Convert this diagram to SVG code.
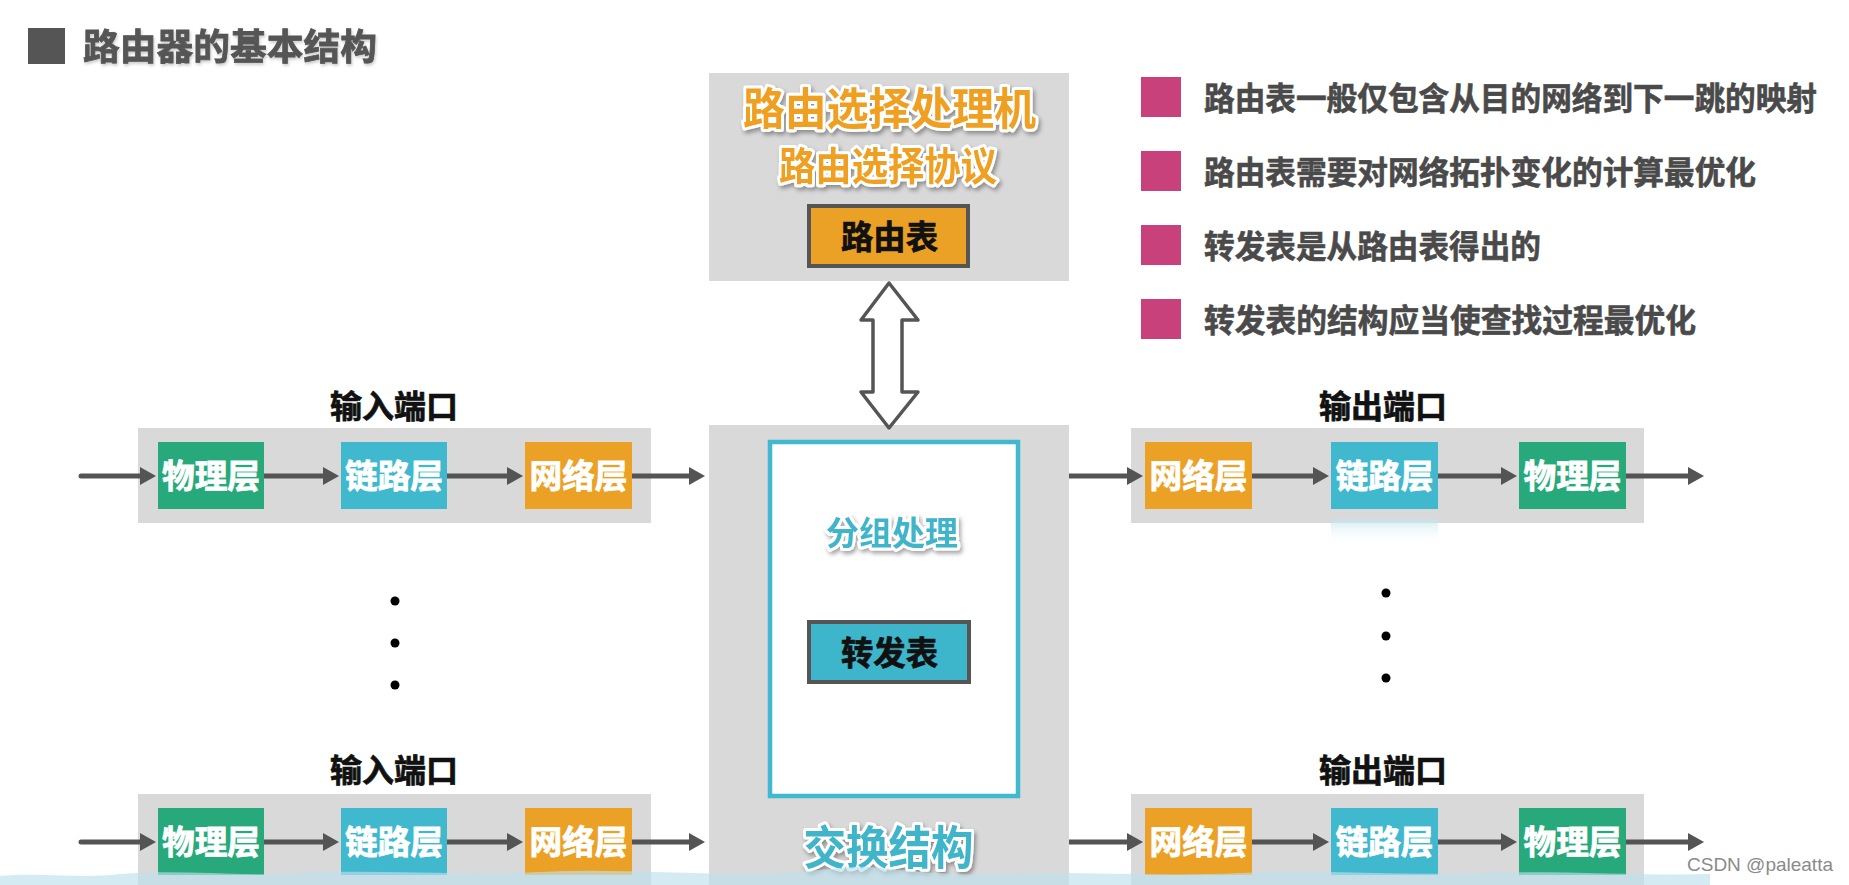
<svg xmlns="http://www.w3.org/2000/svg" width="1849" height="885" viewBox="0 0 1849 885">
<style>
.cjk{font-family:"Noto Sans CJK SC","Noto Sans CJK TC",sans-serif;font-weight:bold}
.band{fill:#D9D9D9}
.green{fill:#27A97B}
.cyan{fill:#40B8CD}
.orange{fill:#EBA125}
.lt{fill:#FFFFFF;stroke:#FFFFFF;stroke-width:0.8px;font-size:33px;text-anchor:middle}
.lbl{fill:#111111;stroke:#111111;stroke-width:0.7px;font-size:32px;text-anchor:middle}
.bul{fill:#C8417B}
.btxt{fill:#4A4A4A;stroke:#4A4A4A;stroke-width:0.6px;font-size:32px}
.glow{stroke:#FFFFFF;stroke-width:6px;stroke-linejoin:round;paint-order:stroke;filter:url(#sh);text-anchor:middle}
.arr{stroke:#545454;stroke-width:5;fill:none;marker-end:url(#ah)}
.dot{fill:#000000}
</style>
<defs>
<marker id="ah" markerUnits="userSpaceOnUse" markerWidth="17" markerHeight="20" refX="5" refY="10" orient="auto">
<path d="M0,1 L16,10 L0,19 z" fill="#545454"/>
</marker>
<filter id="sh" x="-10%" y="-20%" width="130%" height="150%">
<feDropShadow dx="2" dy="3" stdDeviation="2" flood-color="#000000" flood-opacity="0.35"/>
</filter>
<filter id="tsh" x="-5%" y="-20%" width="115%" height="150%">
<feDropShadow dx="1" dy="2" stdDeviation="1.5" flood-color="#000000" flood-opacity="0.2"/>
</filter>
<linearGradient id="refl" x1="0" y1="0" x2="0" y2="1">
<stop offset="0" stop-color="#BFE3EC" stop-opacity="0.7"/>
<stop offset="1" stop-color="#FFFFFF" stop-opacity="0"/>
</linearGradient>
</defs>
<rect x="0" y="0" width="1849" height="885" fill="#FFFFFF"/>

<g id="title">
<rect x="28" y="28" width="37" height="36" fill="#555555"/>
<text class="cjk" x="83" y="60" font-size="36" fill="#555555" stroke="#555555" stroke-width="0.8" textLength="294" lengthAdjust="spacingAndGlyphs" filter="url(#tsh)">路由器的基本结构</text>
</g>

<g id="routing-processor">
<rect x="709" y="73" width="360" height="208" fill="#D9D9D9"/>
<text class="cjk glow" x="889.5" y="125" font-size="44" fill="#EFA020" textLength="293" lengthAdjust="spacingAndGlyphs">路由选择处理机</text>
<text class="cjk glow" x="888" y="180" font-size="39" fill="#EFA020" textLength="218" lengthAdjust="spacingAndGlyphs">路由选择协议</text>
</g>
<g id="routing-table">
<rect x="809" y="206" width="159" height="60" fill="#EBA125" stroke="#555555" stroke-width="4"/>
<text class="cjk" x="889.5" y="249" font-size="33" fill="#111111" stroke="#111111" stroke-width="0.7" text-anchor="middle" textLength="97" lengthAdjust="spacingAndGlyphs">路由表</text>
</g>

<g id="bullets">
<rect class="bul" x="1141" y="77" width="40" height="40"/>
<text class="cjk btxt" x="1204" y="110" textLength="613" lengthAdjust="spacingAndGlyphs">路由表一般仅包含从目的网络到下一跳的映射</text>
<rect class="bul" x="1141" y="151" width="40" height="40"/>
<text class="cjk btxt" x="1204" y="184" textLength="552" lengthAdjust="spacingAndGlyphs">路由表需要对网络拓扑变化的计算最优化</text>
<rect class="bul" x="1141" y="225" width="40" height="40"/>
<text class="cjk btxt" x="1204" y="258" textLength="337" lengthAdjust="spacingAndGlyphs">转发表是从路由表得出的</text>
<rect class="bul" x="1141" y="299" width="40" height="40"/>
<text class="cjk btxt" x="1204" y="332" textLength="492" lengthAdjust="spacingAndGlyphs">转发表的结构应当使查找过程最优化</text>
</g>

<g id="switch-fabric">
<rect x="709" y="425" width="360" height="470" fill="#D9D9D9"/>
<rect x="770" y="442" width="248" height="354" fill="#FFFFFF" stroke="#40B8CD" stroke-width="4.5"/>
<text class="cjk glow" x="892" y="545" font-size="33" fill="#40B5CA" textLength="132" lengthAdjust="spacingAndGlyphs">分组处理</text>
<text class="cjk glow" x="888.5" y="864" font-size="46" fill="#40B5CA" textLength="170" lengthAdjust="spacingAndGlyphs">交换结构</text>
</g>
<g id="forwarding-table">
<rect x="809" y="622" width="160" height="60" fill="#3DB5CB" stroke="#555555" stroke-width="4"/>
<text class="cjk" x="889.5" y="665" font-size="33" fill="#111111" stroke="#111111" stroke-width="0.7" text-anchor="middle" textLength="97" lengthAdjust="spacingAndGlyphs">转发表</text>
</g>

<g id="input-port-1">
<text class="cjk lbl" x="394" y="418" textLength="128" lengthAdjust="spacingAndGlyphs">输入端口</text>
<rect class="band" x="138" y="428" width="513" height="95"/>
<rect class="green" x="158" y="442" width="106" height="67"/>
<text class="cjk lt" x="211" y="488" textLength="98" lengthAdjust="spacingAndGlyphs">物理层</text>
<rect class="cyan" x="341" y="442" width="106" height="67"/>
<text class="cjk lt" x="394" y="488" textLength="98" lengthAdjust="spacingAndGlyphs">链路层</text>
<rect class="orange" x="525" y="442" width="107" height="67"/>
<text class="cjk lt" x="578.5" y="488" textLength="98" lengthAdjust="spacingAndGlyphs">网络层</text>
</g>

<g id="input-port-2">
<text class="cjk lbl" x="394" y="782" textLength="128" lengthAdjust="spacingAndGlyphs">输入端口</text>
<rect class="band" x="138" y="794" width="513" height="95"/>
<rect class="green" x="158" y="808" width="106" height="67"/>
<text class="cjk lt" x="211" y="854" textLength="98" lengthAdjust="spacingAndGlyphs">物理层</text>
<rect class="cyan" x="341" y="808" width="106" height="67"/>
<text class="cjk lt" x="394" y="854" textLength="98" lengthAdjust="spacingAndGlyphs">链路层</text>
<rect class="orange" x="525" y="808" width="107" height="67"/>
<text class="cjk lt" x="578.5" y="854" textLength="98" lengthAdjust="spacingAndGlyphs">网络层</text>
</g>

<g id="output-port-1">
<text class="cjk lbl" x="1383" y="418" textLength="128" lengthAdjust="spacingAndGlyphs">输出端口</text>
<rect class="band" x="1131" y="428" width="513" height="95"/>
<rect x="1331" y="519" width="107" height="26" fill="url(#refl)"/>
<rect class="orange" x="1145" y="442" width="107" height="67"/>
<text class="cjk lt" x="1198.5" y="488" textLength="98" lengthAdjust="spacingAndGlyphs">网络层</text>
<rect class="cyan" x="1331" y="442" width="107" height="67"/>
<text class="cjk lt" x="1384.5" y="488" textLength="98" lengthAdjust="spacingAndGlyphs">链路层</text>
<rect class="green" x="1519" y="442" width="107" height="67"/>
<text class="cjk lt" x="1572.5" y="488" textLength="98" lengthAdjust="spacingAndGlyphs">物理层</text>
</g>

<g id="output-port-2">
<text class="cjk lbl" x="1383" y="782" textLength="128" lengthAdjust="spacingAndGlyphs">输出端口</text>
<rect class="band" x="1131" y="794" width="513" height="95"/>
<rect class="orange" x="1145" y="808" width="107" height="67"/>
<text class="cjk lt" x="1198.5" y="854" textLength="98" lengthAdjust="spacingAndGlyphs">网络层</text>
<rect class="cyan" x="1331" y="808" width="107" height="67"/>
<text class="cjk lt" x="1384.5" y="854" textLength="98" lengthAdjust="spacingAndGlyphs">链路层</text>
<rect class="green" x="1519" y="808" width="107" height="67"/>
<text class="cjk lt" x="1572.5" y="854" textLength="98" lengthAdjust="spacingAndGlyphs">物理层</text>
</g>

<g id="ellipsis">
<circle class="dot" cx="395" cy="601" r="4.5"/>
<circle class="dot" cx="395" cy="643" r="4.5"/>
<circle class="dot" cx="395" cy="685" r="4.5"/>
<circle class="dot" cx="1386" cy="593" r="4.5"/>
<circle class="dot" cx="1386" cy="636" r="4.5"/>
<circle class="dot" cx="1386" cy="678" r="4.5"/>
</g>

<g id="connectors">
<polygon points="889,283 918,320 902,320 902,392 918,392 889,428 861,392 873,392 873,320 861,320" fill="#FFFFFF" stroke="#555555" stroke-width="3.5" stroke-linejoin="round"/>
<line class="arr" x1="81" y1="476" x2="145" y2="476" stroke-linecap="round"/>
<line class="arr" x1="264" y1="476" x2="328" y2="476"/>
<line class="arr" x1="447" y1="476" x2="512" y2="476"/>
<line class="arr" x1="632" y1="476" x2="694" y2="476"/>
<line class="arr" x1="1069" y1="476" x2="1132" y2="476"/>
<line class="arr" x1="1252" y1="476" x2="1318" y2="476"/>
<line class="arr" x1="1438" y1="476" x2="1506" y2="476"/>
<line class="arr" x1="1626" y1="476" x2="1693" y2="476"/>
<line class="arr" x1="81" y1="842" x2="145" y2="842" stroke-linecap="round"/>
<line class="arr" x1="264" y1="842" x2="328" y2="842"/>
<line class="arr" x1="447" y1="842" x2="512" y2="842"/>
<line class="arr" x1="632" y1="842" x2="694" y2="842"/>
<line class="arr" x1="1069" y1="842" x2="1132" y2="842"/>
<line class="arr" x1="1252" y1="842" x2="1318" y2="842"/>
<line class="arr" x1="1438" y1="842" x2="1506" y2="842"/>
<line class="arr" x1="1626" y1="842" x2="1693" y2="842"/>
</g>

<path d="M0,876 C40,872 80,879 120,874 C180,869 240,877 300,873 C380,869 460,876 540,872 C620,868 700,876 780,873 C830,871 850,864 880,868 C920,872 960,876 1000,874 C1080,871 1160,877 1240,873 C1320,869 1400,876 1480,873 C1560,870 1640,876 1710,874 L1710,885 L0,885 z" fill="#BFE0EC" opacity="0.65"/>
<text x="1687" y="871" font-family="Liberation Sans, Arial, sans-serif" font-size="19" fill="#8A8A8A" textLength="146" lengthAdjust="spacingAndGlyphs">CSDN @paleatta</text>
</svg>
